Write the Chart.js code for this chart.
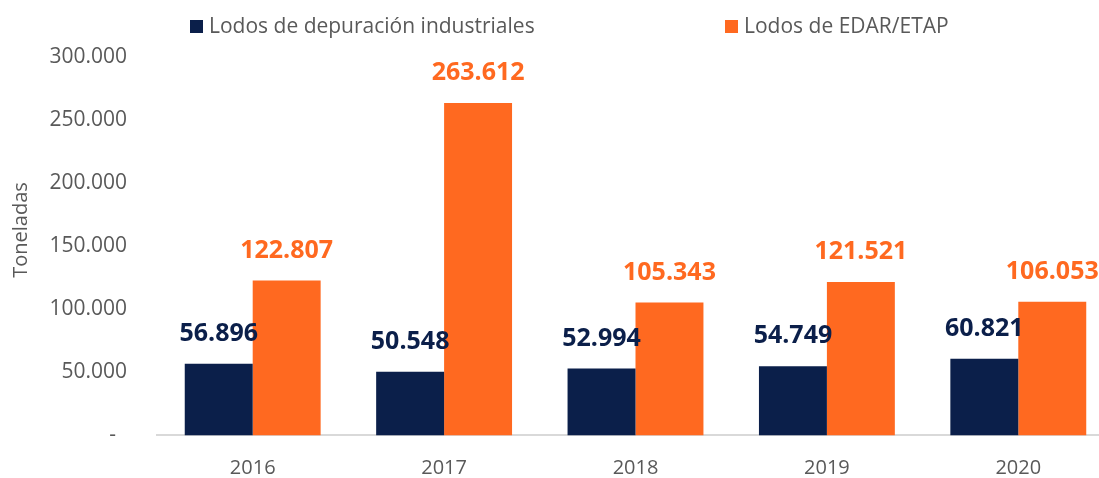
<!DOCTYPE html>
<html>
<head>
<meta charset="utf-8">
<script src="https://cdn.jsdelivr.net/npm/chart.js@4"></script>
<style>
  html, body { margin: 0; padding: 0; background: #fff; overflow: hidden; }
  #lodos { display: block; }
</style>
</head>
<body>
<canvas id="lodos" width="1116" height="478"></canvas>
<script>
// Lodos generados por año (toneladas)

var years = ['2016', '2017', '2018', '2019', '2020'];
var industriales = [56896, 50548, 52994, 54749, 60821];
var edarEtap = [122807, 263612, 105343, 121521, 106053];
var yTicks = [0, 50000, 100000, 150000, 200000, 250000, 300000];

var navy = 'rgb(11, 31, 74)';
var orange = 'rgb(255, 105, 32)';
var grey = '#595959';
var font = "'Open Sans', sans-serif";

function miles(v) {
  if (v === 0) return '-  ';
  return v.toString().replace(/\B(?=(\d{3})+(?!\d))/g, '.');
}

// valores encima de cada barra
var valueLabels = {
  id: 'valueLabels',
  afterDatasetsDraw: function(chart) {
    var ctx = chart.ctx;
    ctx.save();
    ctx.font = 'bold 25px ' + font;
    ctx.textAlign = 'center';
    ctx.textBaseline = 'middle';
    chart.data.datasets.forEach(function(ds, i) {
      chart.getDatasetMeta(i).data.forEach(function(bar, j) {
        ctx.fillStyle = ds.backgroundColor;
        ctx.fillText(miles(ds.data[j]), bar.x, bar.y - 30);
      });
    });
    ctx.restore();
  }
};

// leyenda superior y título del eje Y
var extras = {
  id: 'extras',
  afterDraw: function(chart) {
    var ctx = chart.ctx;
    var xs = [190, 725];
    ctx.save();
    ctx.font = '21px ' + font;
    ctx.textBaseline = 'middle';
    chart.data.datasets.forEach(function(ds, i) {
      ctx.fillStyle = ds.backgroundColor;
      ctx.fillRect(xs[i], 20, 13, 13);
      ctx.fillStyle = grey;
      ctx.fillText(ds.label, xs[i] + 19, 27);
    });
    ctx.translate(21, 230);
    ctx.rotate(-Math.PI / 2);
    ctx.textAlign = 'center';
    ctx.font = '20px ' + font;
    ctx.fillText('Toneladas', 0, 0);
    ctx.restore();
  }
};

var ctx = document.getElementById('lodos').getContext('2d');
var chart = new Chart(ctx, {
  type: 'bar',
  data: {
    labels: years,
    datasets: [{
      label: 'Lodos de depuración industriales',
      backgroundColor: navy,
      data: industriales
    }, {
      label: 'Lodos de EDAR/ETAP',
      backgroundColor: orange,
      data: edarEtap
    }]
  },
  options: {
    responsive: false,
    animation: false,
    categoryPercentage: 0.71,
    barPercentage: 1,
    layout: { padding: { top: 57, right: 2, left: 0, bottom: 0 } },
    plugins: {
      legend: { display: false },
      tooltip: { enabled: false }
    },
    scales: {
      x: {
        afterFit: function(scale) { scale.height = 42; },
        grid: { display: false, drawTicks: false },
        border: { color: '#d9d9d9', width: 2 },
        ticks: { color: grey, font: { family: font, size: 20 }, padding: 21 }
      },
      y: {
        min: 0,
        max: 300000,
        afterBuildTicks: function(scale) {
          scale.ticks = yTicks.map(function(v) { return { value: v }; });
        },
        afterFit: function(scale) { scale.width = 157; },
        grid: { display: false, drawTicks: false },
        border: { display: false },
        ticks: {
          color: grey,
          font: { family: font, size: 21 },
          padding: 30,
          callback: function(v) { return miles(v); }
        }
      }
    }
  },
  plugins: [valueLabels, extras]
});
</script>
</body>
</html>
